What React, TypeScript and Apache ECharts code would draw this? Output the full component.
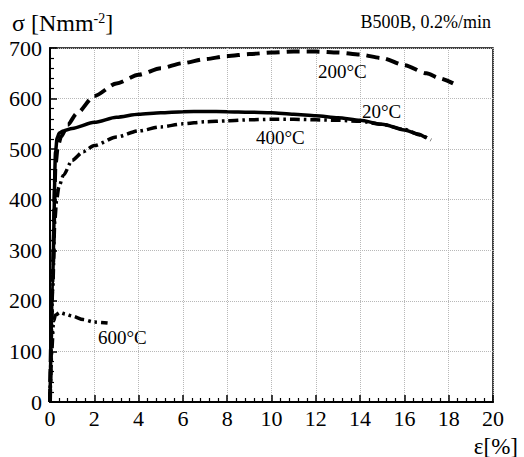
import React, { useEffect, useRef } from "react";
import * as echarts from "echarts";

// strain [%], stress [N/mm2]
const strain20 = [0, 0.12, 0.25, 0.32, 0.42, 0.6, 1, 2, 3, 4, 5, 6, 7, 8, 9, 10, 11, 12, 13, 14, 15, 16, 16.6, 17.0];
const stress20 = [0, 250, 495, 522, 532, 536, 541, 553, 563, 569, 572, 574, 574.5, 574, 573, 572, 569, 566, 562, 557, 549, 538, 530, 522];

const strain200 = [0, 0.12, 0.25, 0.35, 0.5, 0.8, 1.2, 2, 3, 4, 5, 6, 7, 8, 9, 10, 11, 12, 13, 14, 15, 16, 17, 17.6, 18.2];
const stress200 = [0, 250, 470, 505, 525, 548, 570, 605, 630, 647, 660, 670, 678, 684, 688, 691, 693, 693, 691, 687, 680, 666, 650, 640, 630];

const strain400 = [0, 0.12, 0.22, 0.3, 0.4, 0.6, 1, 1.5, 2, 3, 4, 5, 6, 7, 8, 9, 10, 11, 12, 13, 14, 15, 16, 16.7, 17.2];
const stress400 = [0, 220, 360, 400, 425, 448, 478, 495, 507, 524, 536, 544, 550, 554, 556, 558, 559, 559, 558, 557, 555, 549, 539, 528, 518];

const strain600 = [0, 0.08, 0.16, 0.25, 0.45, 0.7, 1.0, 1.5, 2.0, 2.6];
const stress600 = [0, 100, 160, 172, 177, 174, 170, 163, 158, 156];

const xTicks = { min: 0, max: 20, interval: 2 };
const yTicks = { min: 0, max: 700, interval: 100 };

const curveLabels = ["20°C", "200°C", "400°C", "600°C"];

const zip = (xs: number[], ys: number[]) => xs.map((x, i) => [x, ys[i]]);

const SERIF = '"Liberation Serif", "Times New Roman", serif';

export default function App() {
  const ref = useRef<HTMLDivElement>(null);
  useEffect(() => {
    if (!ref.current) return;
    const chart = echarts.init(ref.current, undefined, { renderer: "svg" });
    const lineBase = {
      type: "line" as const,
      showSymbol: false,
      smooth: 0.25,
      smoothMonotone: "x" as const,
      silent: true,
    };
    chart.setOption({
      animation: false,
      backgroundColor: "#ffffff",
      grid: {
        left: 50,
        right: 31,
        top: 48,
        bottom: 55,
        show: true,
        borderColor: "#000",
        borderWidth: 1.5,
      },
      xAxis: {
        type: "value",
        min: xTicks.min,
        max: xTicks.max,
        interval: xTicks.interval,
        axisLine: { show: true, onZero: false, lineStyle: { color: "#000", width: 2 } },
        axisTick: { show: true, inside: true, length: 7, lineStyle: { color: "#000", width: 1.5 } },
        minorTick: { show: true, splitNumber: 5, length: 4, lineStyle: { color: "#000", width: 1.2 } },
        splitLine: { show: true, lineStyle: { color: "#b8b8b8", type: "dotted", width: 1 } },
        axisLabel: { color: "#000", fontFamily: SERIF, fontSize: 22, margin: 5 },
      },
      yAxis: {
        type: "value",
        min: yTicks.min,
        max: yTicks.max,
        interval: yTicks.interval,
        axisLine: { show: true, onZero: false, lineStyle: { color: "#000", width: 2 } },
        axisTick: { show: true, inside: true, length: 7, lineStyle: { color: "#000", width: 1.5 } },
        minorTick: { show: true, splitNumber: 5, length: 4, lineStyle: { color: "#000", width: 1.2 } },
        splitLine: { show: true, lineStyle: { color: "#b8b8b8", type: "dotted", width: 1 } },
        axisLabel: { color: "#000", fontFamily: SERIF, fontSize: 22, margin: 8 },
      },
      series: [
        {
          ...lineBase,
          name: curveLabels[0],
          data: zip(strain20, stress20),
          lineStyle: { color: "#000", width: 3.5, type: "solid" },
          z: 5,
        },
        {
          ...lineBase,
          name: curveLabels[1],
          data: zip(strain200, stress200),
          lineStyle: { color: "#000", width: 4, type: [13, 7] },
        },
        {
          ...lineBase,
          name: curveLabels[2],
          data: zip(strain400, stress400),
          lineStyle: { color: "#000", width: 3.5, type: [10, 4, 2.5, 4] },
        },
        {
          ...lineBase,
          name: curveLabels[3],
          data: zip(strain600, stress600),
          lineStyle: { color: "#000", width: 3.5, type: [10, 4, 2.5, 4, 2.5, 4] },
        },
      ],
      graphic: [
        {
          type: "text",
          x: 12,
          y: 23,
          style: {
            text: "{a|σ [Nmm}{s|-2}{a|]}",
            rich: {
              a: { fontFamily: SERIF, fontSize: 24, fill: "#000" },
              s: { fontFamily: SERIF, fontSize: 14, fill: "#000", verticalAlign: "top", padding: [0, 0, 10, 0] },
            },
            verticalAlign: "middle",
            textVerticalAlign: "middle",
          },
        },
        {
          type: "text",
          x: 491,
          y: 22,
          style: {
            text: "B500B, 0.2%/min",
            font: `18px ${SERIF}`,
            fill: "#000",
            textAlign: "right",
            textVerticalAlign: "middle",
          },
        },
        {
          type: "text",
          x: 518,
          y: 446,
          style: {
            text: "ε[%]",
            font: `23px ${SERIF}`,
            fill: "#000",
            textAlign: "right",
            textVerticalAlign: "middle",
          },
        },
        {
          type: "text",
          x: 362,
          y: 111,
          style: { text: curveLabels[0], font: `19px ${SERIF}`, fill: "#000", textVerticalAlign: "middle" },
        },
        {
          type: "text",
          x: 318,
          y: 71,
          style: { text: curveLabels[1], font: `19px ${SERIF}`, fill: "#000", textVerticalAlign: "middle" },
        },
        {
          type: "text",
          x: 256,
          y: 137,
          style: { text: curveLabels[2], font: `19px ${SERIF}`, fill: "#000", textVerticalAlign: "middle" },
        },
        {
          type: "text",
          x: 98,
          y: 337,
          style: { text: curveLabels[3], font: `19px ${SERIF}`, fill: "#000", textVerticalAlign: "middle" },
        },
      ],
    });
    return () => chart.dispose();
  }, []);
  return <div ref={ref} style={{ width: 524, height: 457, position: "absolute", left: 0, top: 0 }} />;
}
